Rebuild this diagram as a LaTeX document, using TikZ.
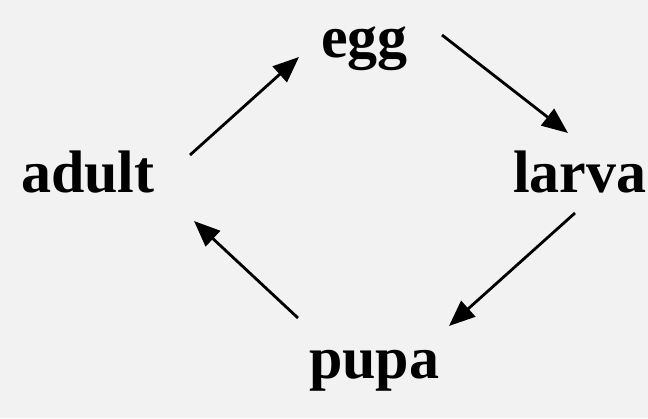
\documentclass[tikz,border=0pt]{standalone}
\usepackage{fontspec}
\setmainfont{Liberation Serif}
\usetikzlibrary{arrows.meta}
\definecolor{bg}{HTML}{F2F2F2}
\tikzset{
  lbl/.style={anchor=base west, inner sep=0pt, font=\fontsize{60}{62}\selectfont\bfseries},
  cyc/.style={line width=2.8pt, -{Triangle[length=26pt,width=21pt]}}
}
\begin{document}
\begin{tikzpicture}[x=1pt,y=1pt]
\fill[bg] (0,0) rectangle (648,418);
\useasboundingbox (0,0) rectangle (648,418);
\node[lbl] (egg) at (321,360) {egg};
\node[lbl] (adult) at (21,225) {adult};
\node[lbl] (larva) at (513,225) {larva};
\node[lbl] (pupa) at (309,40) {pupa};
\coordinate (a1) at (190,263);
\coordinate (a2) at (299,361);
\coordinate (b1) at (442,383);
\coordinate (b2) at (568,285);
\coordinate (c1) at (575,205);
\coordinate (c2) at (449,92);
\coordinate (d1) at (298,100);
\coordinate (d2) at (194,197);
\draw[cyc] (a1) -- (a2);
\draw[cyc] (b1) -- (b2);
\draw[cyc] (c1) -- (c2);
\draw[cyc] (d1) -- (d2);
\end{tikzpicture}
\end{document}
